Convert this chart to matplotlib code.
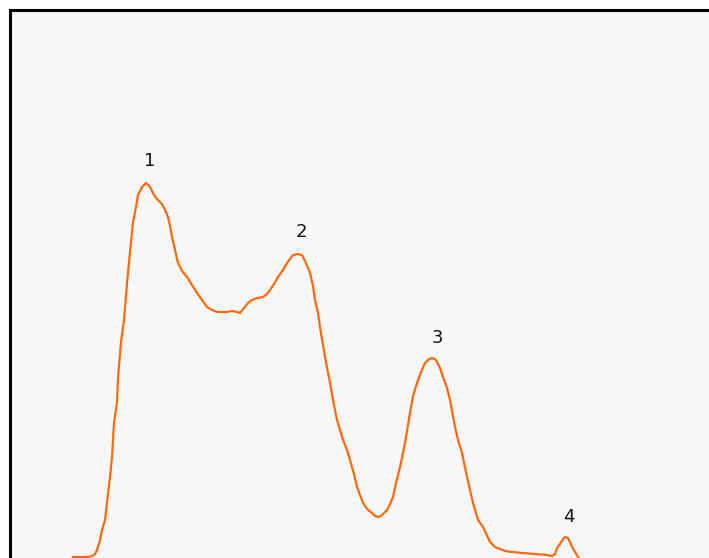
import matplotlib
matplotlib.use("Agg")
import matplotlib.pyplot as plt

# Trace position (x) and signal height (y)
x = [73, 80, 88, 92, 95, 97, 100, 102, 105, 107, 110, 112, 114, 117, 118, 121, 124, 127, 129, 131, 133,
     136, 138, 142, 146, 150, 153, 156, 159, 162, 165, 168, 170, 172, 175, 178, 182, 187, 192, 197, 202,
     207, 212, 217, 222, 227, 232, 237, 240, 244, 248, 252, 257, 263, 267, 270, 274, 278, 283, 287, 290,
     293, 298, 302, 305, 308, 310, 313, 315, 318, 320, 325, 330, 333, 337, 340, 343, 347, 350, 354, 357,
     360, 363, 367, 372, 375, 378, 381, 384, 387, 390, 393, 396, 400, 405, 410, 413, 417, 421, 425, 429,
     432, 435, 437, 440, 443, 447, 450, 455, 458, 462, 467, 473, 478, 483, 490, 495, 500, 505, 512, 522,
     535, 547, 552, 555, 557, 560, 563, 565, 568, 570, 572, 575, 578, 582]
y = [1, 1, 1, 2, 4, 8, 18, 28, 38, 55, 81, 101, 135, 156, 180, 216, 238, 275, 296, 316, 336,
     351, 363, 371, 375, 371, 365, 360, 357, 354, 348, 341, 332, 321, 308, 295, 287, 281, 273, 265, 258,
     251, 248, 246, 246, 246, 247, 246, 245, 250, 255, 258, 260, 261, 264, 268, 274, 281, 288, 295, 299,
     303, 304, 303, 297, 290, 285, 272, 258, 245, 231, 201, 175, 158, 138, 128, 118, 108, 98, 84, 71,
     63, 55, 49, 45, 42, 41, 42, 45, 48, 54, 61, 75, 91, 115, 145, 162, 175, 186, 195, 199,
     200, 199, 196, 190, 181, 170, 158, 131, 118, 105, 81, 55, 38, 31, 16, 11, 9, 7, 6, 5,
     4, 3, 2, 4, 10, 14, 19, 21, 20, 16, 11, 6, 1, -5]

peak_labels = ["1", "2", "3", "4"]
peak_x = [150, 301, 437, 569]
peak_y = [397, 326, 220, 41]

fig = plt.figure(figsize=(7.09, 5.58), dpi=100)
fig.patch.set_facecolor("white")
ax = fig.add_axes([10 / 709, 0, 1, 548 / 558])
ax.set_facecolor("#f7f7f7")
ax.plot(x, y, color="#ff6a10", lw=1.6, solid_joinstyle="miter")
for lab, px, py in zip(peak_labels, peak_x, peak_y):
    ax.text(px, py, lab, ha="center", va="center", fontsize=13, color="#111111")

ax.set_xlim(10, 719)
ax.set_ylim(0, 548)
ax.set_xticks([])
ax.set_yticks([])
for side in ["left", "top"]:
    ax.spines[side].set_linewidth(2.2)
    ax.spines[side].set_color("black")
for side in ["right", "bottom"]:
    ax.spines[side].set_visible(False)

fig.savefig("out.png", dpi=100)
